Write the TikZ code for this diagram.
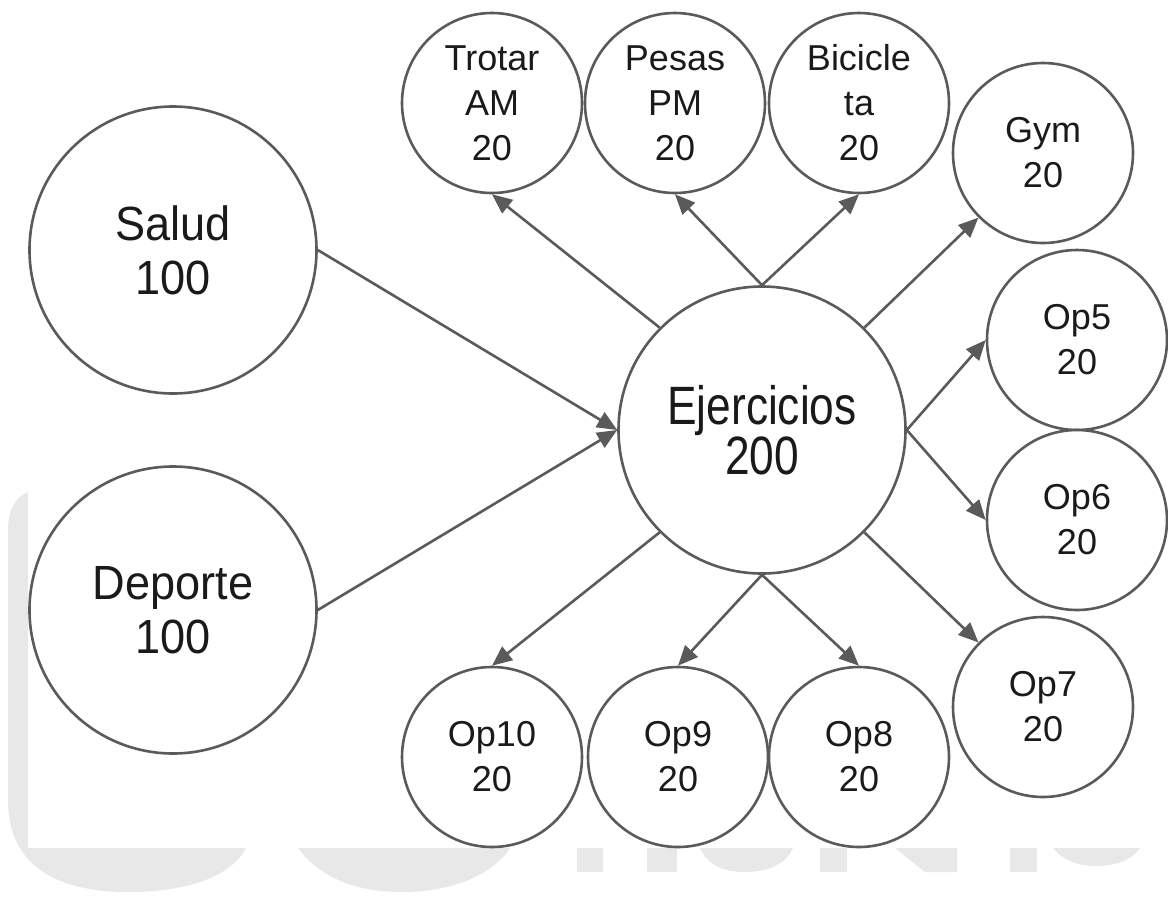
\documentclass[tikz,border=0pt]{standalone}
\usepackage{fontspec}
\setmainfont{Liberation Sans}
\newfontfamily\midfont[FakeStretch=0.94]{Liberation Sans}
\newfontfamily\hubfont[FakeStretch=0.82]{Liberation Sans}
\usetikzlibrary{arrows.meta}
\definecolor{linegray}{HTML}{5A5A5A}
\definecolor{markgray}{HTML}{E8E8E8}
\definecolor{inkblack}{HTML}{1A1A1A}
\tikzset{
  bub/.style={circle, draw=linegray, line width=2.6pt, fill=white, inner sep=0pt,
    align=center, text=inkblack},
  leaf/.style={bub, minimum size=180pt, font=\fontsize{36}{45}\selectfont},
  root/.style={bub, minimum size=287pt, font=\midfont\fontsize{48}{54}\selectfont},
  hub/.style={bub, minimum size=287pt, font=\hubfont\fontsize{54}{47}\selectfont},
  conn/.style={draw=linegray, line width=2.6pt, -{Triangle[length=20pt,width=17pt]}},
  ghost/.style={fill=markgray, draw=none}
}
\begin{document}
\begin{tikzpicture}[x=1pt, y=-1pt]
\useasboundingbox (0,0) rectangle (1168,898);
\fill[white] (0,0) rectangle (1168,898);

% faint lettering behind the diagram
\path[ghost] (8,530) -- (8,800) .. controls (8,868) and (60,892) .. (128,892)
  .. controls (196,892) and (234,872) .. (246,848) -- (246,490) -- (40,490)
  .. controls (20,490) and (8,505) .. (8,530) -- cycle;
\path[ghost] (298,848) .. controls (322,880) and (360,892) .. (402,892)
  .. controls (450,892) and (492,876) .. (510,848) -- cycle;
\path[ghost] (577,848) rectangle (603,872);
\path[ghost] (647,848) rectangle (677,872);
\path[ghost] (700,848) .. controls (708,866) and (725,872) .. (745,872)
  .. controls (768,872) and (786,864) .. (793,848) -- cycle;
\path[ghost] (820,848) rectangle (847,872);
\path[ghost] (895,848) -- (957,848) -- (957,872) -- (925,872) -- cycle;
\path[ghost] (1010,848) rectangle (1037,872);
\path[ghost] (1053,848) .. controls (1062,860) and (1078,866) .. (1096,866)
  .. controls (1116,866) and (1132,860) .. (1140,848) -- cycle;
\fill[white] (28,0) rectangle (1168,848);

% nodes
\node[root] (salud) at (173,250) {Salud\\100};
\node[root] (dep)   at (173,610) {Deporte\\100};
\node[hub]  (ej)    at (762,430) {Ejercicios\\200};

\node[leaf] (trot)  at (492,103) {Trotar\\AM\\20};
\node[leaf] (pesas) at (675,103) {Pesas\\PM\\20};
\node[leaf] (bici)  at (859,103) {Bicicle\\ta\\20};
\node[leaf] (gym)   at (1043,153) {Gym\\20};
\node[leaf] (op5)   at (1077,340) {Op5\\20};
\node[leaf] (op6)   at (1077,520) {Op6\\20};
\node[leaf] (op7)   at (1043,707) {Op7\\20};
\node[leaf] (op8)   at (859,757) {Op8\\20};
\node[leaf] (op9)   at (678,757) {Op9\\20};
\node[leaf] (op10)  at (492,757) {Op10\\20};

% connectors
\draw[conn] (salud.east) -- (ej.west);
\draw[conn] (dep.east) -- (ej.west);
\draw[conn] (ej.135) -- (trot.south);
\draw[conn] (ej.north) -- (pesas.south);
\draw[conn] (ej.north) -- (bici.south);
\draw[conn] (ej.45) -- (gym.225);
\draw[conn] (ej.east) -- (op5.west);
\draw[conn] (ej.east) -- (op6.west);
\draw[conn] (ej.-45) -- (op7.135);
\draw[conn] (ej.south) -- (op8.north);
\draw[conn] (ej.south) -- (op9.north);
\draw[conn] (ej.-135) -- (op10.north);
\end{tikzpicture}
\end{document}
